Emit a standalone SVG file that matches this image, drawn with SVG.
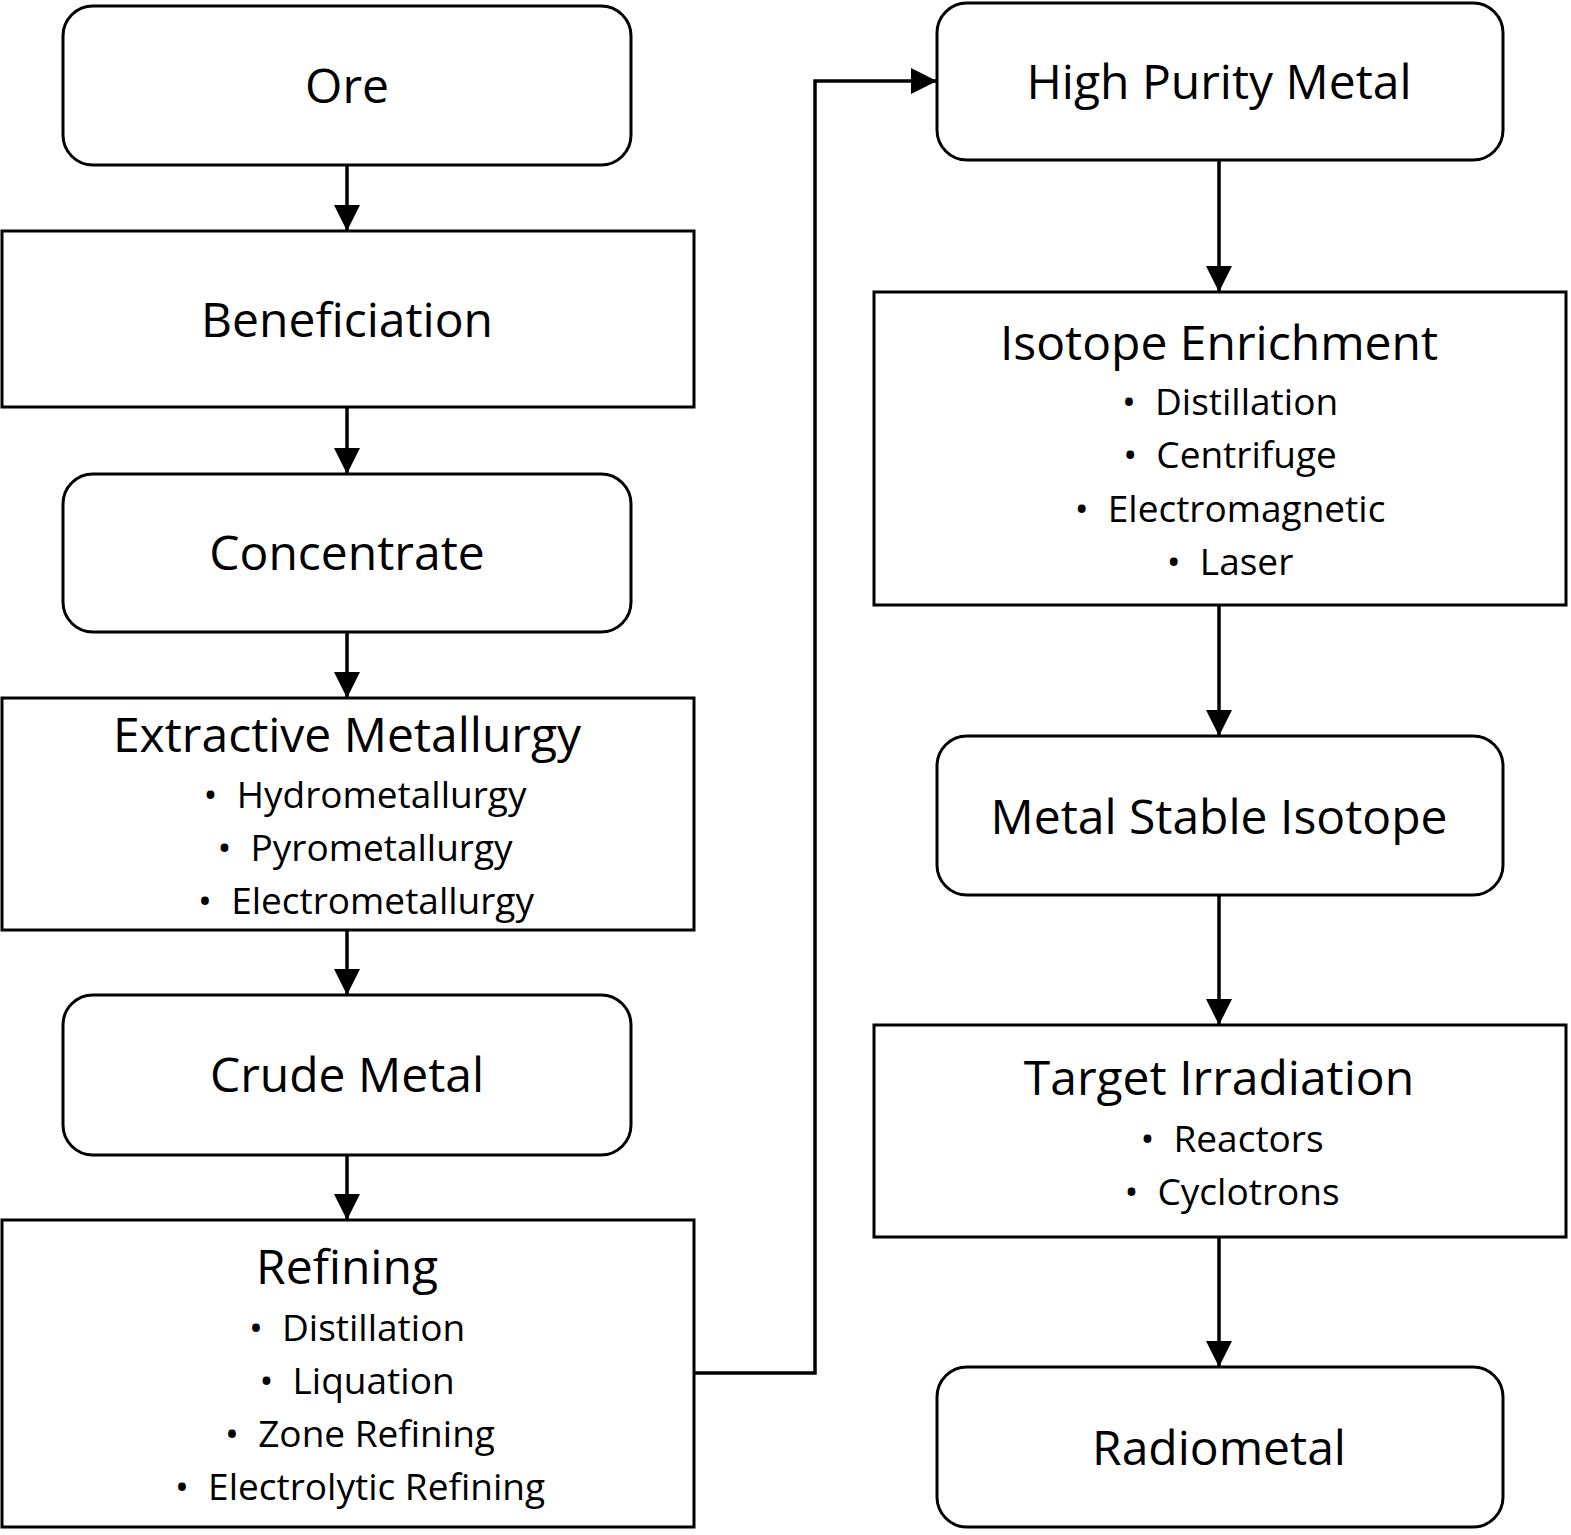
<svg xmlns="http://www.w3.org/2000/svg" width="1571" height="1535" viewBox="0 0 1571 1535">
<style>
.n{fill:#fff;stroke:#000;stroke-width:3}
.t{font-family:"Open Sans","Noto Sans",sans-serif;font-size:48px;text-anchor:middle;fill:#000}
.b{font-family:"Open Sans","Noto Sans",sans-serif;font-size:37px;text-anchor:middle;fill:#000;white-space:pre}
.c{fill:none;stroke:#000;stroke-width:3.5}
</style>
<defs><marker id="a" markerWidth="10" markerHeight="10" refX="9" refY="5" orient="auto" markerUnits="userSpaceOnUse" viewBox="0 0 10 10"><path d="M0,0L10,5L0,10z"/></marker>
<marker id="ah" viewBox="0 0 10 10" refX="10" refY="5" markerWidth="26" markerHeight="26" orient="auto" markerUnits="userSpaceOnUse"><path d="M0,0L10,5L0,10z"/></marker></defs>
<rect width="1571" height="1535" fill="#fff"/>
<g id="connectors">
<path class="c" d="M347,165V231" marker-end="url(#ah)"/>
<path class="c" d="M347,407V474" marker-end="url(#ah)"/>
<path class="c" d="M347,632V698" marker-end="url(#ah)"/>
<path class="c" d="M347,930V995" marker-end="url(#ah)"/>
<path class="c" d="M347,1155V1220" marker-end="url(#ah)"/>
<path class="c" d="M694,1373H815V81H937" marker-end="url(#ah)"/>
<path class="c" d="M1219,160V292" marker-end="url(#ah)"/>
<path class="c" d="M1219,605V736" marker-end="url(#ah)"/>
<path class="c" d="M1219,895V1025" marker-end="url(#ah)"/>
<path class="c" d="M1219,1237V1367" marker-end="url(#ah)"/>
</g>
<g id="ore"><rect class="n" x="63" y="6" width="568" height="159" rx="30"/><text class="t" x="347" y="103">Ore</text></g>
<g id="beneficiation"><rect class="n" x="2" y="231" width="692" height="176"/><text class="t" x="347" y="337">Beneficiation</text></g>
<g id="concentrate"><rect class="n" x="63" y="474" width="568" height="158" rx="30"/><text class="t" x="347" y="570">Concentrate</text></g>
<g id="extractive"><rect class="n" x="2" y="698" width="692" height="232"/><text class="t" x="347" y="752">Extractive Metallurgy</text>
<text class="b" x="365" y="808">•  Hydrometallurgy</text><text class="b" x="365" y="861">•  Pyrometallurgy</text><text class="b" x="366" y="914">•  Electrometallurgy</text></g>
<g id="crude"><rect class="n" x="63" y="995" width="568" height="160" rx="30"/><text class="t" x="347" y="1092">Crude Metal</text></g>
<g id="refining"><rect class="n" x="2" y="1220" width="692" height="307"/><text class="t" x="347" y="1284">Refining</text>
<text class="b" x="357" y="1341">•  Distillation</text><text class="b" x="357" y="1394">•  Liquation</text><text class="b" x="360" y="1447">•  Zone Refining</text><text class="b" x="360" y="1500">•  Electrolytic Refining</text></g>
<g id="highpurity"><rect class="n" x="937" y="3" width="566" height="157" rx="30"/><text class="t" x="1219" y="99">High Purity Metal</text></g>
<g id="isotope"><rect class="n" x="874" y="292" width="692" height="313"/><text class="t" x="1219" y="360">Isotope Enrichment</text>
<text class="b" x="1230" y="415">•  Distillation</text><text class="b" x="1230" y="468">•  Centrifuge</text><text class="b" x="1230" y="522">•  Electromagnetic</text><text class="b" x="1230" y="575">•  Laser</text></g>
<g id="stable"><rect class="n" x="937" y="736" width="566" height="159" rx="30"/><text class="t" x="1219" y="834">Metal Stable Isotope</text></g>
<g id="target"><rect class="n" x="874" y="1025" width="692" height="212"/><text class="t" x="1219" y="1095">Target Irradiation</text>
<text class="b" x="1232" y="1152">•  Reactors</text><text class="b" x="1232" y="1205">•  Cyclotrons</text></g>
<g id="radiometal"><rect class="n" x="937" y="1367" width="566" height="160" rx="30"/><text class="t" x="1219" y="1465">Radiometal</text></g>
</svg>
